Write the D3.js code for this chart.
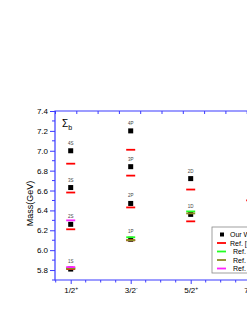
<!DOCTYPE html>
<html>
<head>
<meta charset="utf-8">
<script src="https://cdn.jsdelivr.net/npm/d3@7"></script>
<style>
body { margin: 0; background: #fff; overflow: hidden; }
text { font-family: "Liberation Sans", Arial, sans-serif; }
</style>
</head>
<body>
<script>
var width = 247, height = 319;

// categories (J^P)
var cats = ["1/2", "3/2", "5/2", "7/2"];
var parity = ["+", "-", "+", "+"];
var yTicks = [5.8, 6.0, 6.2, 6.4, 6.6, 6.8, 7.0, 7.2, 7.4];

// our work
var states = ["1S", "2S", "3S", "4S", "1P", "2P", "3P", "4P", "1D", "2D"];
var stateCat = [0, 0, 0, 0, 1, 1, 1, 1, 2, 2];
var ourWork = [5.81, 6.26, 6.63, 7.00, 6.11, 6.47, 6.84, 7.20, 6.36, 6.72];

// references
var redCat = [0, 0, 0, 0, 1, 1, 1, 1, 2, 2, 3];
var redVal = [5.81, 6.21, 6.58, 6.87, 6.10, 6.43, 6.75, 7.01, 6.29, 6.61, 6.50];
var greenCat = [0, 1, 2];
var greenVal = [5.82, 6.13, 6.39];
var oliveCat = [0, 1, 2];
var oliveVal = [5.815, 6.10, 6.37];
var magentaCat = [0, 0];
var magentaVal = [5.83, 6.30];

var legendNames = ["Our Work", "Ref. [9]", "Ref. [10]", "Ref. [11]", "Ref. [12]"];

var axisColor = "#3a3aff";
var pLeft = 55, pTop = 111, pBottom = 280, pRight = 300;

var svg = d3.select("body").append("svg")
	.attr("width", width)
	.attr("height", height);

var x = d3.scaleLinear().domain([0, 3]).range([70.7, 250.7]);
var y = d3.scaleLinear().domain([5.7, 7.4]).range([pBottom, pTop]);

/*************************************************/
// axes
var yAxis = d3.axisLeft(y).tickValues(yTicks).tickSize(5).tickPadding(2)
	.tickFormat(d3.format(".1f"));
var gy = svg.append("g").attr("transform", "translate(" + pLeft + ",0)").call(yAxis);
gy.selectAll(".tick line").attr("stroke", axisColor);
// minor y ticks
svg.selectAll(".yminor")
	.data(yTicks.map(function (d) { return d - 0.1; }))
	.enter().append("line")
	.attr("x1", pLeft - 3).attr("x2", pLeft)
	.attr("y1", function (d) { return y(d); })
	.attr("y2", function (d) { return y(d); })
	.attr("stroke", axisColor);

var xAxis = d3.axisBottom(x).tickValues([0, 1, 2, 3]).tickSize(4).tickPadding(3)
	.tickFormat(function () { return ""; });
var gx = svg.append("g").attr("transform", "translate(0," + pBottom + ")").call(xAxis);
gx.selectAll(".tick line").attr("stroke", axisColor);
gx.selectAll(".tick text")
	.each(function (d, i) {
		var t = d3.select(this);
		t.append("tspan").text(cats[i]);
		t.append("tspan").text(parity[i]).attr("dy", "-0.45em").attr("font-size", "5px");
	});
// minor x ticks
svg.selectAll(".xminor")
	.data(d3.range(-0.25, 3.6, 0.25).filter(function (d) { return Math.abs(d - Math.round(d)) > 0.01; }))
	.enter().append("line")
	.attr("x1", function (d) { return x(d); })
	.attr("x2", function (d) { return x(d); })
	.attr("y1", pBottom).attr("y2", pBottom + 2.5)
	.attr("stroke", axisColor);

// top axis, own scale
var xTop = d3.scaleLinear().domain([0, 10]).range([pLeft, pLeft + 213]);
var gt = svg.append("g").attr("transform", "translate(0," + pTop + ")")
	.call(d3.axisTop(xTop).ticks(10).tickSize(-3).tickFormat(function () { return ""; }));
gt.selectAll(".tick line").attr("stroke", axisColor);

svg.selectAll(".domain").remove();
svg.append("path")
	.attr("d", "M" + pRight + "," + pTop + "H" + pLeft + "V" + pBottom + "H" + pRight)
	.attr("fill", "none").attr("stroke", axisColor).attr("stroke-width", 1.2);

svg.selectAll(".tick text").attr("fill", "#000").attr("font-size", "8px")
	.attr("font-family", "'Liberation Sans', Arial, sans-serif");

svg.append("text")
	.attr("transform", "translate(33," + ((pTop + pBottom) / 2 + 8) + ") rotate(-90)")
	.attr("text-anchor", "middle")
	.attr("font-size", "9px")
	.text("Mass(GeV)");

var sig = svg.append("text").attr("x", 62).attr("y", 127).attr("font-size", "10px");
sig.append("tspan").text("\u03a3");
sig.append("tspan").text("b").attr("font-size", "7px").attr("dy", "3");

/*************************************************/
// our work squares
svg.selectAll(".ours")
	.data(ourWork)
	.enter().append("rect")
	.attr("x", function (d, i) { return x(stateCat[i]) - 2.5; })
	.attr("y", function (d) { return y(d) - 2.5; })
	.attr("width", 5).attr("height", 5)
	.attr("fill", "#000");

svg.selectAll(".slabel")
	.data(states)
	.enter().append("text")
	.attr("x", function (d, i) { return x(stateCat[i]); })
	.attr("y", function (d, i) { return y(ourWork[i]) - 6; })
	.attr("text-anchor", "middle")
	.attr("font-size", "4.5px")
	.attr("fill", "#444")
	.text(function (d) { return d; });

function refLines(cls, catArr, valArr, color) {
	svg.selectAll("." + cls)
		.data(valArr)
		.enter().append("line")
		.attr("class", cls)
		.attr("x1", function (d, i) { return x(catArr[i]) - 4.5; })
		.attr("x2", function (d, i) { return x(catArr[i]) + 4.5; })
		.attr("y1", function (d) { return y(d); })
		.attr("y2", function (d) { return y(d); })
		.attr("stroke", color)
		.attr("stroke-width", 1.8);
}
refLines("red", redCat, redVal, "#ff0000");
refLines("green", greenCat, greenVal, "#22ff22");
refLines("olive", oliveCat, oliveVal, "#8b8b22");
refLines("magenta", magentaCat, magentaVal, "#ff22ff");

/*************************************************/
// legend
var lg = svg.append("g").attr("transform", "translate(212,227)");
lg.append("rect").attr("width", 80).attr("height", 46)
	.attr("fill", "#fff").attr("stroke", "#888").attr("stroke-width", 0.8);
var lcolors = ["#000", "#ff0000", "#22ff22", "#8b8b22", "#ff22ff"];
lcolors.forEach(function (c, i) {
	var ly = 7.5 + i * 8.5;
	if (i === 0) {
		lg.append("rect").attr("x", 8).attr("y", ly - 2).attr("width", 4).attr("height", 4).attr("fill", c);
	} else {
		lg.append("line").attr("x1", 5).attr("x2", 14).attr("y1", ly).attr("y2", ly)
			.attr("stroke", c).attr("stroke-width", 1.8);
	}
	lg.append("text").attr("x", i < 2 ? 18 : 21).attr("y", ly + 2.5)
		.attr("font-size", "7px").text(legendNames[i]);
});
</script>
</body>
</html>
